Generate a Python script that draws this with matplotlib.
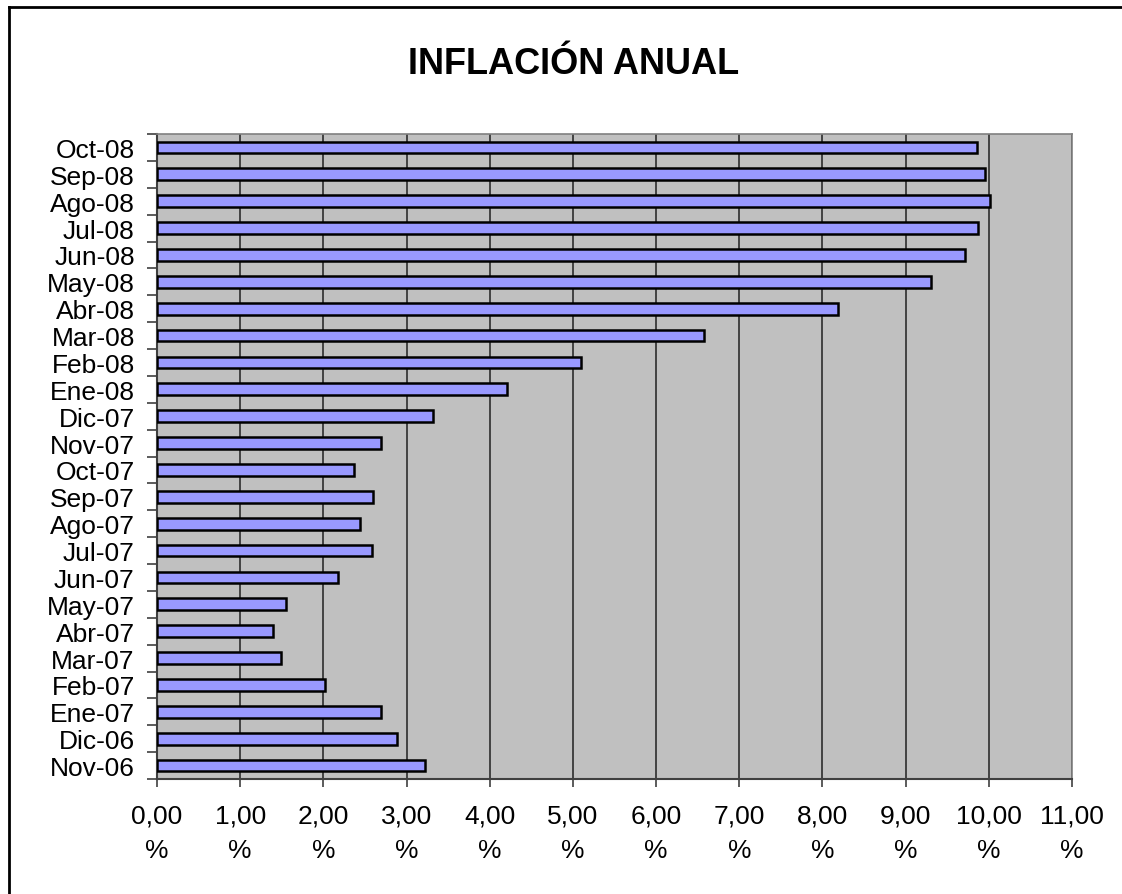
import numpy as np
import matplotlib.pyplot as plt
from matplotlib.lines import Line2D

plt.rcParams['font.family'] = ['Liberation Sans', 'DejaVu Sans']

# months, oldest first (drawn bottom to top)
months = ['Nov-06', 'Dic-06', 'Ene-07', 'Feb-07', 'Mar-07', 'Abr-07', 'May-07',
          'Jun-07', 'Jul-07', 'Ago-07', 'Sep-07', 'Oct-07', 'Nov-07', 'Dic-07',
          'Ene-08', 'Feb-08', 'Mar-08', 'Abr-08', 'May-08', 'Jun-08', 'Jul-08',
          'Ago-08', 'Sep-08', 'Oct-08']
inflation = [3.22, 2.88, 2.69, 2.02, 1.49, 1.39, 1.55,
             2.18, 2.59, 2.44, 2.60, 2.37, 2.69, 3.32,
             4.21, 5.10, 6.58, 8.19, 9.30, 9.71, 9.87,
             10.02, 9.96, 9.86]
xticks = np.arange(0, 12)
xlabels = [('%d,00\n%%' % v) for v in xticks]

fig = plt.figure(figsize=(11.22, 8.95), dpi=100)
ax = fig.add_axes([157/1122, 1 - 780/895, 915/1122, 645/895])

y = np.arange(len(months))
ax.barh(y, inflation, height=0.44, color='#9999FF', edgecolor='black',
        linewidth=1.8, zorder=3)

ax.set_facecolor('#C0C0C0')
ax.set_xlim(0, 11)
ax.set_ylim(-0.5, len(months) - 0.5)

ax.set_xticks(xticks)
ax.set_xticklabels(xlabels, fontsize=19, linespacing=1.55)
ax.tick_params(axis='x', direction='out', length=6, width=1.2,
               color='#404040', pad=12)
ax.grid(axis='x', color='#202020', linewidth=1.1, zorder=1)

ax.set_yticks(y)
ax.set_yticklabels(months, fontsize=19)
ax.tick_params(axis='y', which='major', length=0, pad=16)
ax.set_yticks(np.arange(-0.5, len(months)), minor=True)
ax.tick_params(axis='y', which='minor', direction='out', length=7,
               width=1.2, color='#404040')

for s in ['top', 'right']:
    ax.spines[s].set_color('#808080')
    ax.spines[s].set_linewidth(1.2)
for s in ['left', 'bottom']:
    ax.spines[s].set_color('#404040')
    ax.spines[s].set_linewidth(1.5)

fig.text(574/1122, 1 - 64/895, 'INFLACIÓN ANUAL', fontsize=26,
         fontweight='bold', ha='center', va='center')

# chart frame (only left and top edges visible)
fig.add_artist(Line2D([9/1122, 9/1122], [0, 1 - 8/895], color='black',
                      linewidth=2, transform=fig.transFigure))
fig.add_artist(Line2D([9/1122, 1], [1 - 8/895, 1 - 8/895], color='black',
                      linewidth=2, transform=fig.transFigure))

fig.savefig('out.png', dpi=100, facecolor='white')
